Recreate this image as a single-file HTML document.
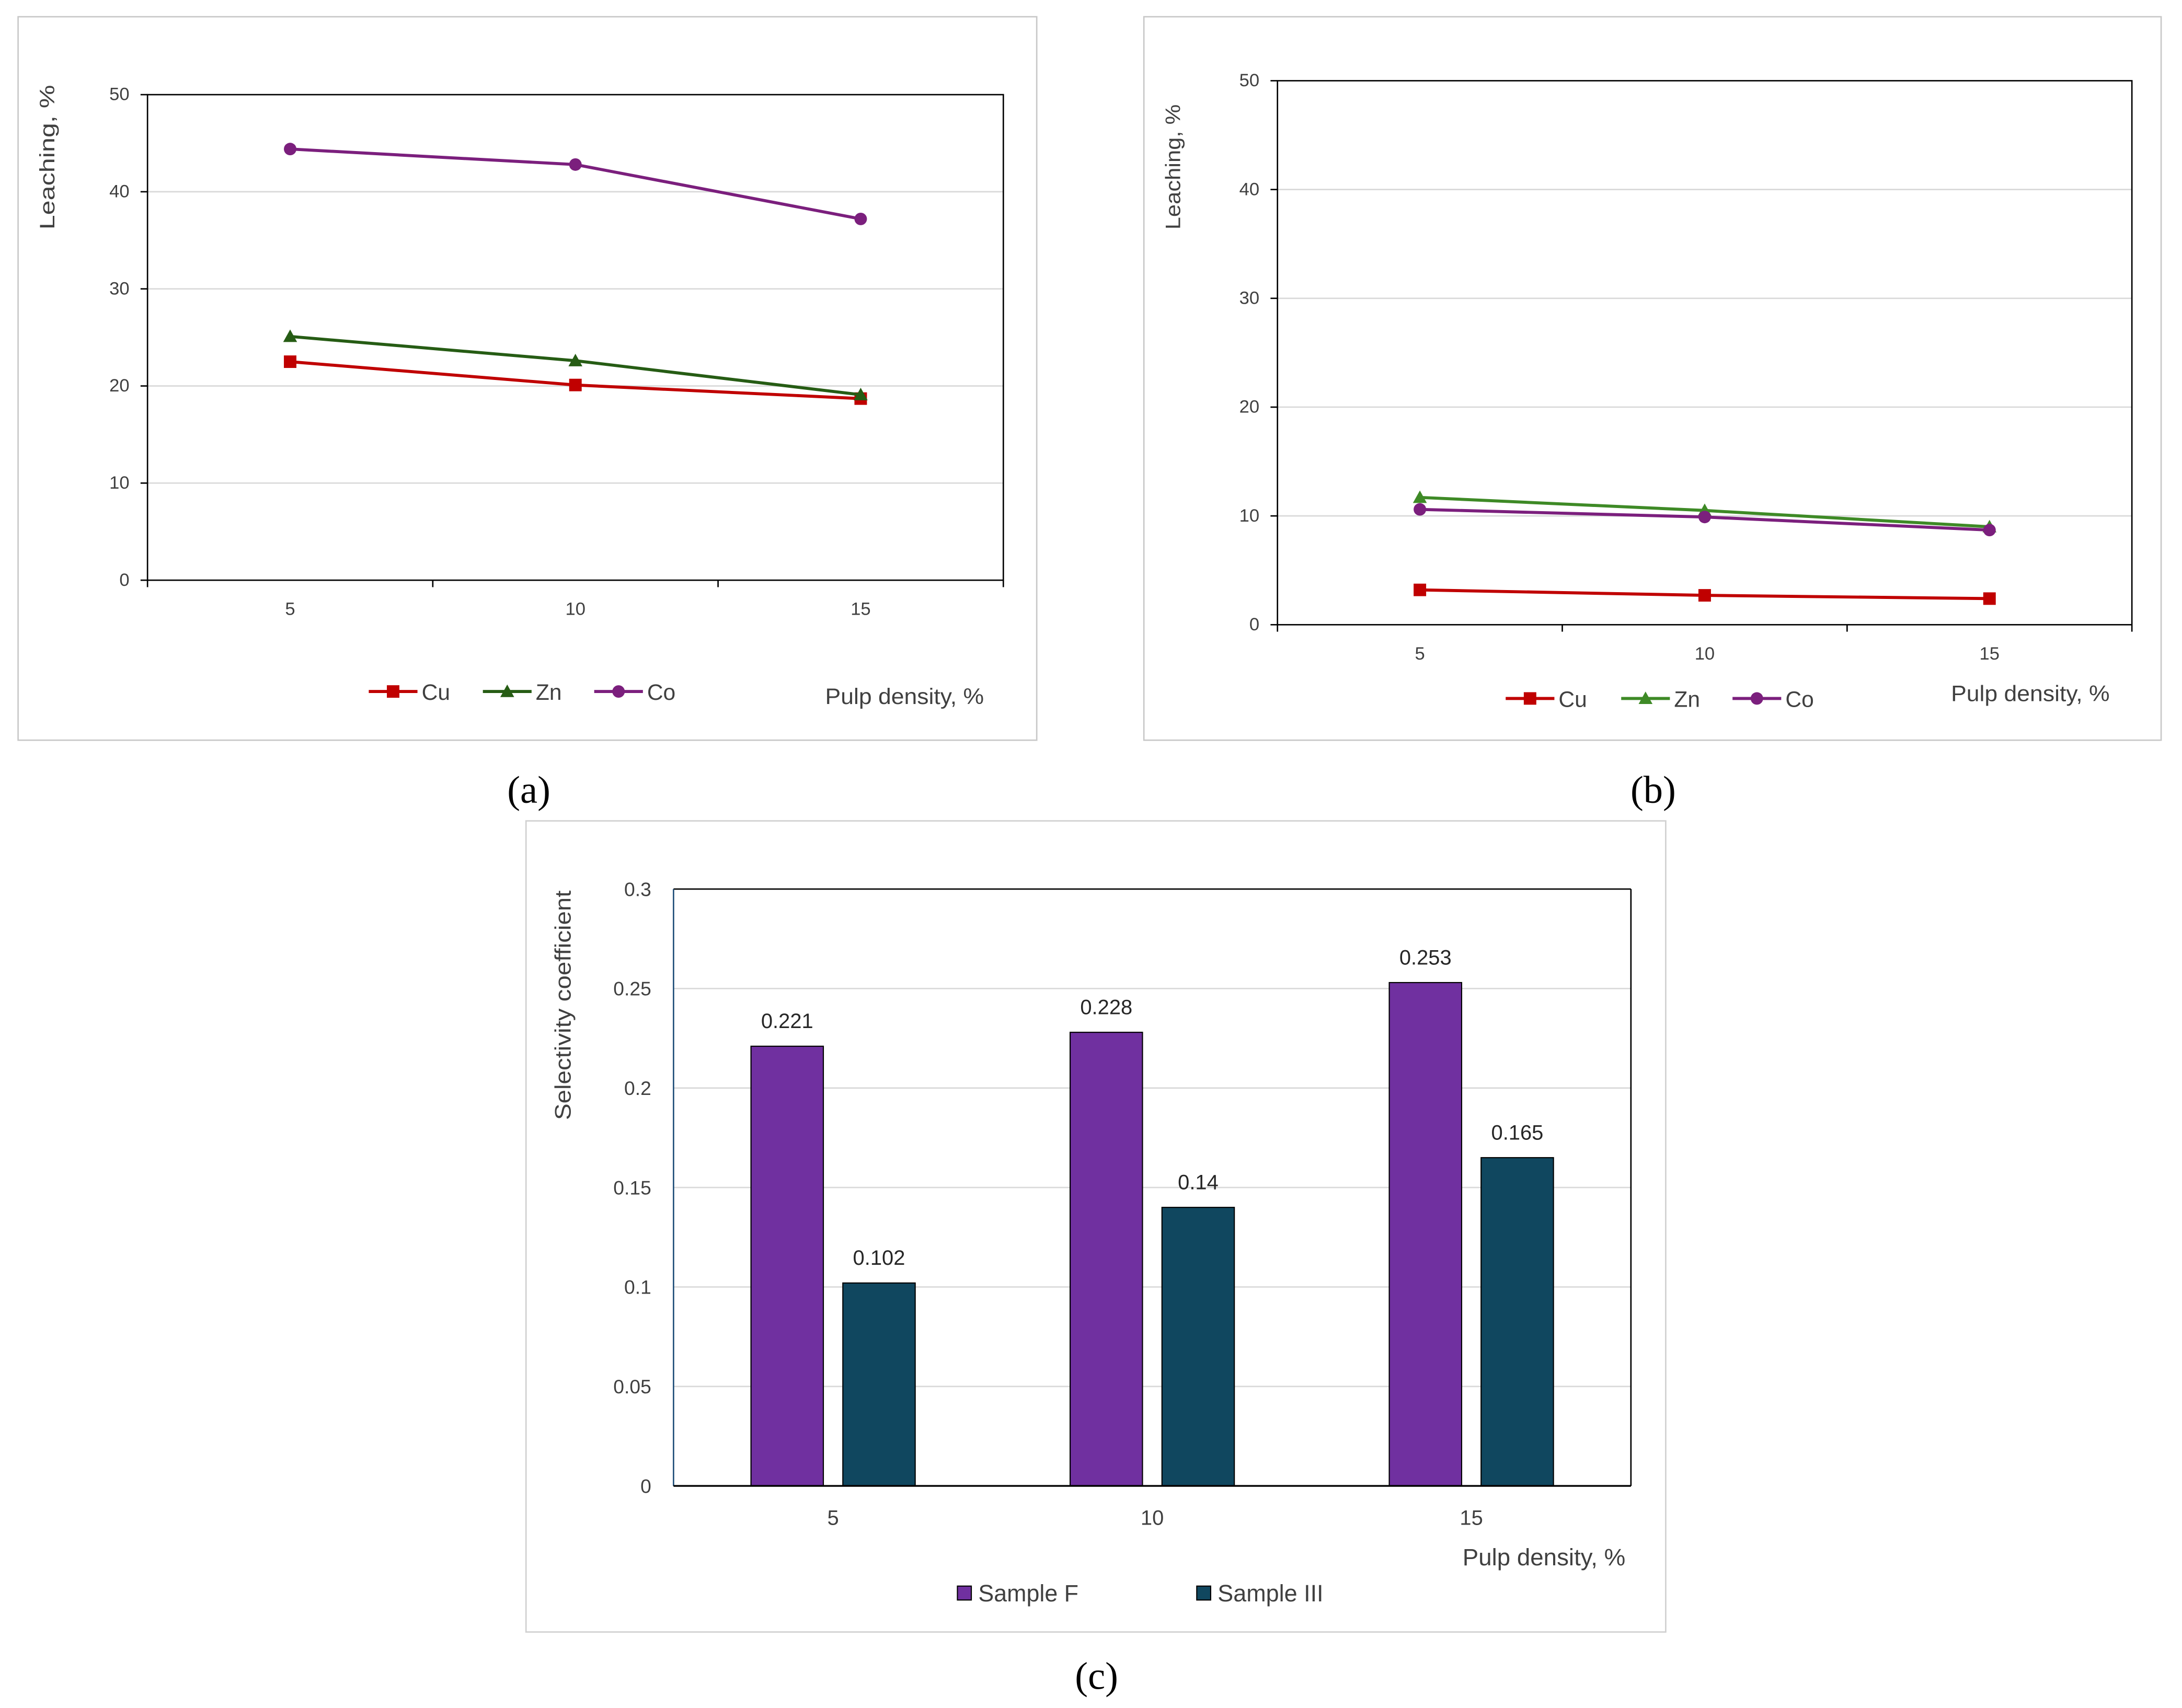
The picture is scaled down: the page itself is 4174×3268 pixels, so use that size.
<!DOCTYPE html>
<html><head><meta charset="utf-8"><style>
html,body{margin:0;padding:0;background:#fff}
svg{display:block}
text{font-family:"Liberation Sans",sans-serif}
text.cap{font-family:"Liberation Serif",serif}
</style></head><body>
<svg id="fig" xmlns="http://www.w3.org/2000/svg" width="4174" height="3268" viewBox="0 0 1568 1227.6"></svg>
<script>
const categories=[5,10,15];
const aCu=[22.5,20.1,18.7];
const aZn=[25.1,22.6,19.1];
const aCo=[44.4,42.8,37.2];
const bCu=[3.2,2.7,2.4];
const bZn=[11.7,10.5,9.0];
const bCo=[10.6,9.9,8.7];
const leachTicks=[0,10,20,30,40,50];
const cF=[0.221,0.228,0.253];
const cIII=[0.102,0.14,0.165];
const cFLabels=["0.221","0.228","0.253"];
const cIIILabels=["0.102","0.14","0.165"];
const selTicks=["0","0.05","0.1","0.15","0.2","0.25","0.3"];

const NS="http://www.w3.org/2000/svg";
const svg=document.getElementById('fig');
function el(tag,attrs,parent,txt){const e=document.createElementNS(NS,tag);for(const k in attrs)e.setAttribute(k,attrs[k]);if(txt!==undefined)e.textContent=txt;(parent||svg).appendChild(e);return e;}

function lineChart(p){
  const g=el('g',{});
  
  
  const fr=el('rect',{x:p.box[0],y:p.box[1],width:p.box[2]-p.box[0],height:p.box[3]-p.box[1],fill:'#fff',stroke:'#c8c8c8','stroke-width':1},g);
  
  const [x0,y0,x1,y1]=p.plot;
  const ys=v=>y1-(v/50)*(y1-y0);
  const cw=(x1-x0)/categories.length;
  const xs=i=>x0+cw*(i+0.5);
  leachTicks.forEach(t=>{
    if(t>0&&t<50){const gl=el('line',{x1:x0,x2:x1,y1:ys(t),y2:ys(t),stroke:'#d9d9d9','stroke-width':1},g);}
    el('line',{x1:x0-5,x2:x0,y1:ys(t),y2:ys(t),stroke:'#000','stroke-width':1},g);
    const tl=el('text',{x:x0-13,y:ys(t)+4,'text-anchor':'end','font-size':13,fill:'#404040'},g,String(t));
    
  });
  el('rect',{x:x0,y:y0,width:x1-x0,height:y1-y0,fill:'none',stroke:'#000','stroke-width':1},g);
  for(let i=0;i<=categories.length;i++)el('line',{x1:x0+cw*i,x2:x0+cw*i,y1:y1,y2:y1+5,stroke:'#000'},g);
  categories.forEach((c,i)=>{const t=el('text',{x:xs(i),y:y1+25,'text-anchor':'middle','font-size':13,fill:'#404040'},g,String(c));});
  const yt=el('text',{transform:`translate(${p.ytx},${p.yty}) rotate(-90)`,'text-anchor':'start','font-size':15,fill:'#404040',textLength:p.ytl,lengthAdjust:'spacingAndGlyphs'},g,'Leaching, %');
  
  const series=[['Cu',p.cu,'#c00000','sq'],['Zn',p.zn,p.znc,'tri'],['Co',p.co,'#7b1f7d','ci']];
  series.forEach(([nm,vals,col,mk])=>{
    const pts=vals.map((v,i)=>xs(i)+','+ys(v)).join(' ');
    const pl=el('polyline',{points:pts,fill:'none',stroke:col,'stroke-width':2.2},g);
    
    vals.forEach((v,i)=>{drawMarker(g,mk,xs(i),ys(v),col);});
  });
  series.forEach(([nm,vals,col,mk],k)=>{
    const lx=p.leg[k],ly=p.legy;
    const lg=el('g',{},g);
    el('line',{x1:lx,x2:lx+35,y1:ly,y2:ly,stroke:col,'stroke-width':2.2},lg);
    drawMarker(lg,mk,lx+17.5,ly,col);
    el('text',{x:lx+38,y:ly+6,'font-size':16,fill:'#404040'},lg,nm);
  });
  const xt=el('text',{x:p.xtx-114,y:p.xty,'font-size':16,fill:'#404040',textLength:114,lengthAdjust:'spacingAndGlyphs'},g,'Pulp density, %');
  
}
function drawMarker(g,mk,x,y,col){
  let m;
  if(mk==='sq')m=el('rect',{x:x-4.5,y:y-4.5,width:9,height:9,fill:col},g);
  else if(mk==='tri')m=el('polygon',{points:`${x},${y-5} ${x+5},${y+4} ${x-5},${y+4}`,fill:col},g);
  else m=el('circle',{cx:x,cy:y,r:4.5,fill:col},g);
  
}
lineChart({name:'chart-a',box:[13,12,745,532],plot:[106,68,721,417],cu:aCu,zn:aZn,co:aCo,znc:'#265c14',ytx:39,yty:165,ytl:104,leg:[265,347,427],legy:497,xtx:707,xty:506});
lineChart({name:'chart-b',box:[822,12,1553,532],plot:[918,58,1532,449],cu:bCu,zn:bZn,co:bCo,znc:'#3e8a26',ytx:848,yty:165,ytl:90,leg:[1082,1165,1245],legy:502,xtx:1516,xty:504});

(function(){
  const g=el('g',{});
  const fr=el('rect',{x:378,y:590,width:819,height:583,fill:'#fff',stroke:'#d0d0d0'},g);
  
  const x0=484,y0=639,x1=1172,y1=1068;
  const ys=v=>y1-(v/0.3)*(y1-y0);
  const cw=(x1-x0)/categories.length;
  const xs=i=>x0+cw*(i+0.5);
  selTicks.forEach(t=>{const v=parseFloat(t);
    if(v>0&&v<0.3){const gl=el('line',{x1:x0,x2:x1,y1:ys(v),y2:ys(v),stroke:'#d9d9d9'},g);}
    const tl=el('text',{x:x0-16,y:ys(v)+5,'text-anchor':'end','font-size':14,fill:'#404040'},g,t);
    
  });
  el('line',{x1:x0,x2:x1,y1:y0,y2:y0,stroke:'#000'},g);
  el('line',{x1:x1,x2:x1,y1:y0,y2:y1,stroke:'#000'},g);
  el('line',{x1:x0,x2:x0,y1:y0,y2:y1,stroke:'#1f4e79'},g);
  const bw=52,gap=14;
  categories.forEach((c,i)=>{
    const cx=xs(i);
    const bf=el('rect',{x:cx-gap/2-bw,y:ys(cF[i]),width:bw,height:y1-ys(cF[i]),fill:'#7030a0',stroke:'#000','stroke-width':0.8},g);
    
    const bi=el('rect',{x:cx+gap/2,y:ys(cIII[i]),width:bw,height:y1-ys(cIII[i]),fill:'#10475f',stroke:'#000','stroke-width':0.8},g);
    
    const lf=el('text',{x:cx-gap/2-bw/2,y:ys(cF[i])-13,'text-anchor':'middle','font-size':15,fill:'#262626'},g,cFLabels[i]);
    
    const li=el('text',{x:cx+gap/2+bw/2,y:ys(cIII[i])-13,'text-anchor':'middle','font-size':15,fill:'#262626'},g,cIIILabels[i]);
    
    const xl=el('text',{x:cx,y:y1+28,'text-anchor':'middle','font-size':15,fill:'#404040'},g,String(c));
    
  });
  el('line',{x1:x0,x2:x1,y1:y1,y2:y1,stroke:'#000','stroke-width':1.3},g);
  const yt=el('text',{transform:'translate(410,805) rotate(-90)','text-anchor':'start','font-size':16,fill:'#404040',textLength:165,lengthAdjust:'spacingAndGlyphs'},g,'Selectivity coefficient');
  
  const xt=el('text',{x:1051,y:1125,'font-size':17,fill:'#404040',textLength:117,lengthAdjust:'spacingAndGlyphs'},g,'Pulp density, %');
  
  [['Sample F','#7030a0',688,72],['Sample III','#10475f',860,76]].forEach(([nm,col,lx,tl])=>{
    const lg=el('g',{},g);
    el('rect',{x:lx,y:1140,width:10,height:10,fill:col,stroke:'#000','stroke-width':0.8},lg);
    el('text',{x:lx+15,y:1151,'font-size':17,fill:'#404040',textLength:tl,lengthAdjust:'spacingAndGlyphs'},lg,nm);
  });
})();
[['(a)',380,577],['(b)',1188,577],['(c)',788,1214]].forEach(([t,x,y])=>{
  const c=el('text',{x:x,y:y,'text-anchor':'middle','font-size':28,fill:'#000',class:'cap'},svg,t);
  
});
</script>
</body></html>
